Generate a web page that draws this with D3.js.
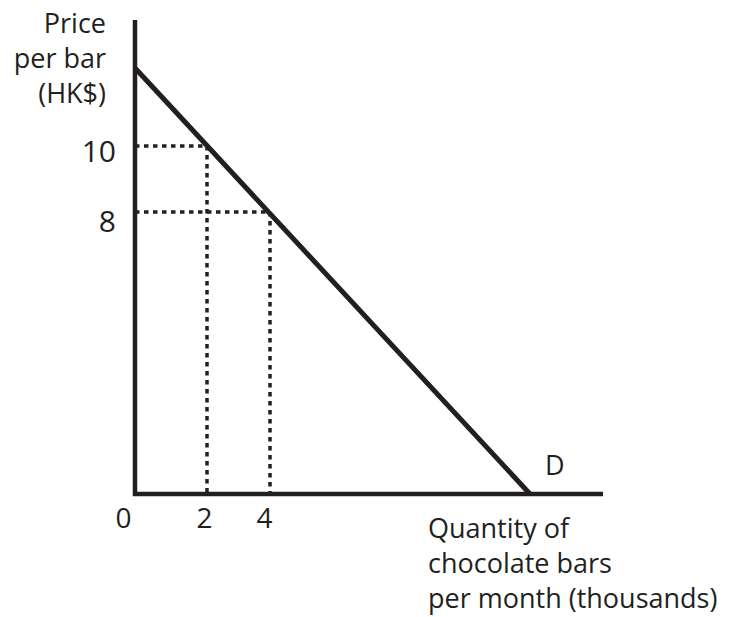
<!DOCTYPE html>
<html>
<head>
<meta charset="utf-8">
<script src="https://cdn.jsdelivr.net/npm/d3@7"></script>
<style>
  body { margin: 0; background: #fff; }
  text { font-family: "Open Sans", "Noto Sans", sans-serif; fill: #231f20; }
</style>
</head>
<body>
<svg id="chart" width="736" height="617"></svg>
<script>
// demand curve end points (quantity in thousands, price in HK$)
const demandQty = [0, 12];
const demandPrice = [12, 0];
// the two marked points on the curve
const markQty = [2, 4];
const markPrice = [10, 8];
const xTicks = [0, 2, 4];
const yTicks = [10, 8];
const yTitle = ["Price", "per bar", "(HK$)"];
const xTitle = ["Quantity of", "chocolate bars", "per month (thousands)"];

const ink = "#231f20";
const svg = d3.select("#chart");

// schematic drawing: tick spacing is not uniform, so use piecewise scales
let x = d3.scaleLinear().domain([0, 2, 4, 12]).range([135, 207, 270, 530]);
let y = d3.scaleLinear().domain([0, 8, 10, 12]).range([494, 212, 146, 68]);

let axisTop = 20, axisRight = 603;

// dotted guides
let guides = svg.append("g").attr("class", "guides")
    .attr("stroke", ink)
    .attr("stroke-width", 3.5)
    .attr("stroke-dasharray", "4.5,4.5");

markQty.forEach(function(q, i) {
    let p = markPrice[i];
    guides.append("line")
        .attr("x1", x(0)).attr("y1", y(p))
        .attr("x2", x(q)).attr("y2", y(p));
    guides.append("line")
        .attr("x1", x(q)).attr("y1", y(p))
        .attr("x2", x(q)).attr("y2", y(0));
});

// demand line
let line = d3.line().x(d => x(d[0])).y(d => y(d[1]));
svg.append("path")
    .datum(demandQty.map((q, i) => [q, demandPrice[i]]))
    .attr("d", line)
    .attr("fill", "none")
    .attr("stroke", ink)
    .attr("stroke-width", 5);

// axes
svg.append("path")
    .attr("d", "M" + x(0) + "," + axisTop + "V" + y(0) + "H" + axisRight)
    .attr("fill", "none")
    .attr("stroke", ink)
    .attr("stroke-width", 4.5);

let xShift = { 0: -12, 2: -3, 4: -6 };
let xAxis = svg.append("g")
    .attr("transform", "translate(0," + y(0) + ")")
    .call(d3.axisBottom(x).tickValues(xTicks).tickSize(0).tickPadding(14).tickFormat(d3.format("d")));
xAxis.select(".domain").remove();
xAxis.selectAll("text")
    .style("font-size", "28px")
    .attr("dx", d => xShift[d]);

let yAxis = svg.append("g")
    .attr("transform", "translate(" + x(0) + ",0)")
    .call(d3.axisLeft(y).tickValues(yTicks).tickSize(0).tickPadding(19).tickFormat(d3.format("d")));
yAxis.select(".domain").remove();
yAxis.selectAll("text")
    .style("font-size", "30px")
    .attr("dy", d => d == 10 ? "0.53em" : "0.66em");

// titles, one text per line
svg.append("g").attr("class", "y-title")
    .selectAll("text")
    .data(yTitle)
    .enter()
    .append("text")
    .attr("text-anchor", "end")
    .style("font-size", "27px")
    .attr("x", 106)
    .attr("y", (d, i) => 33 + i * 35)
    .text(d => d);

svg.append("g").attr("class", "x-title")
    .selectAll("text")
    .data(xTitle)
    .enter()
    .append("text")
    .style("font-size", "27px")
    .attr("x", 428)
    .attr("y", (d, i) => 538 + i * 35)
    .text(d => d);

svg.append("text")
    .attr("x", 545)
    .attr("y", 475)
    .style("font-size", "27px")
    .text("D");
</script>
</body>
</html>
